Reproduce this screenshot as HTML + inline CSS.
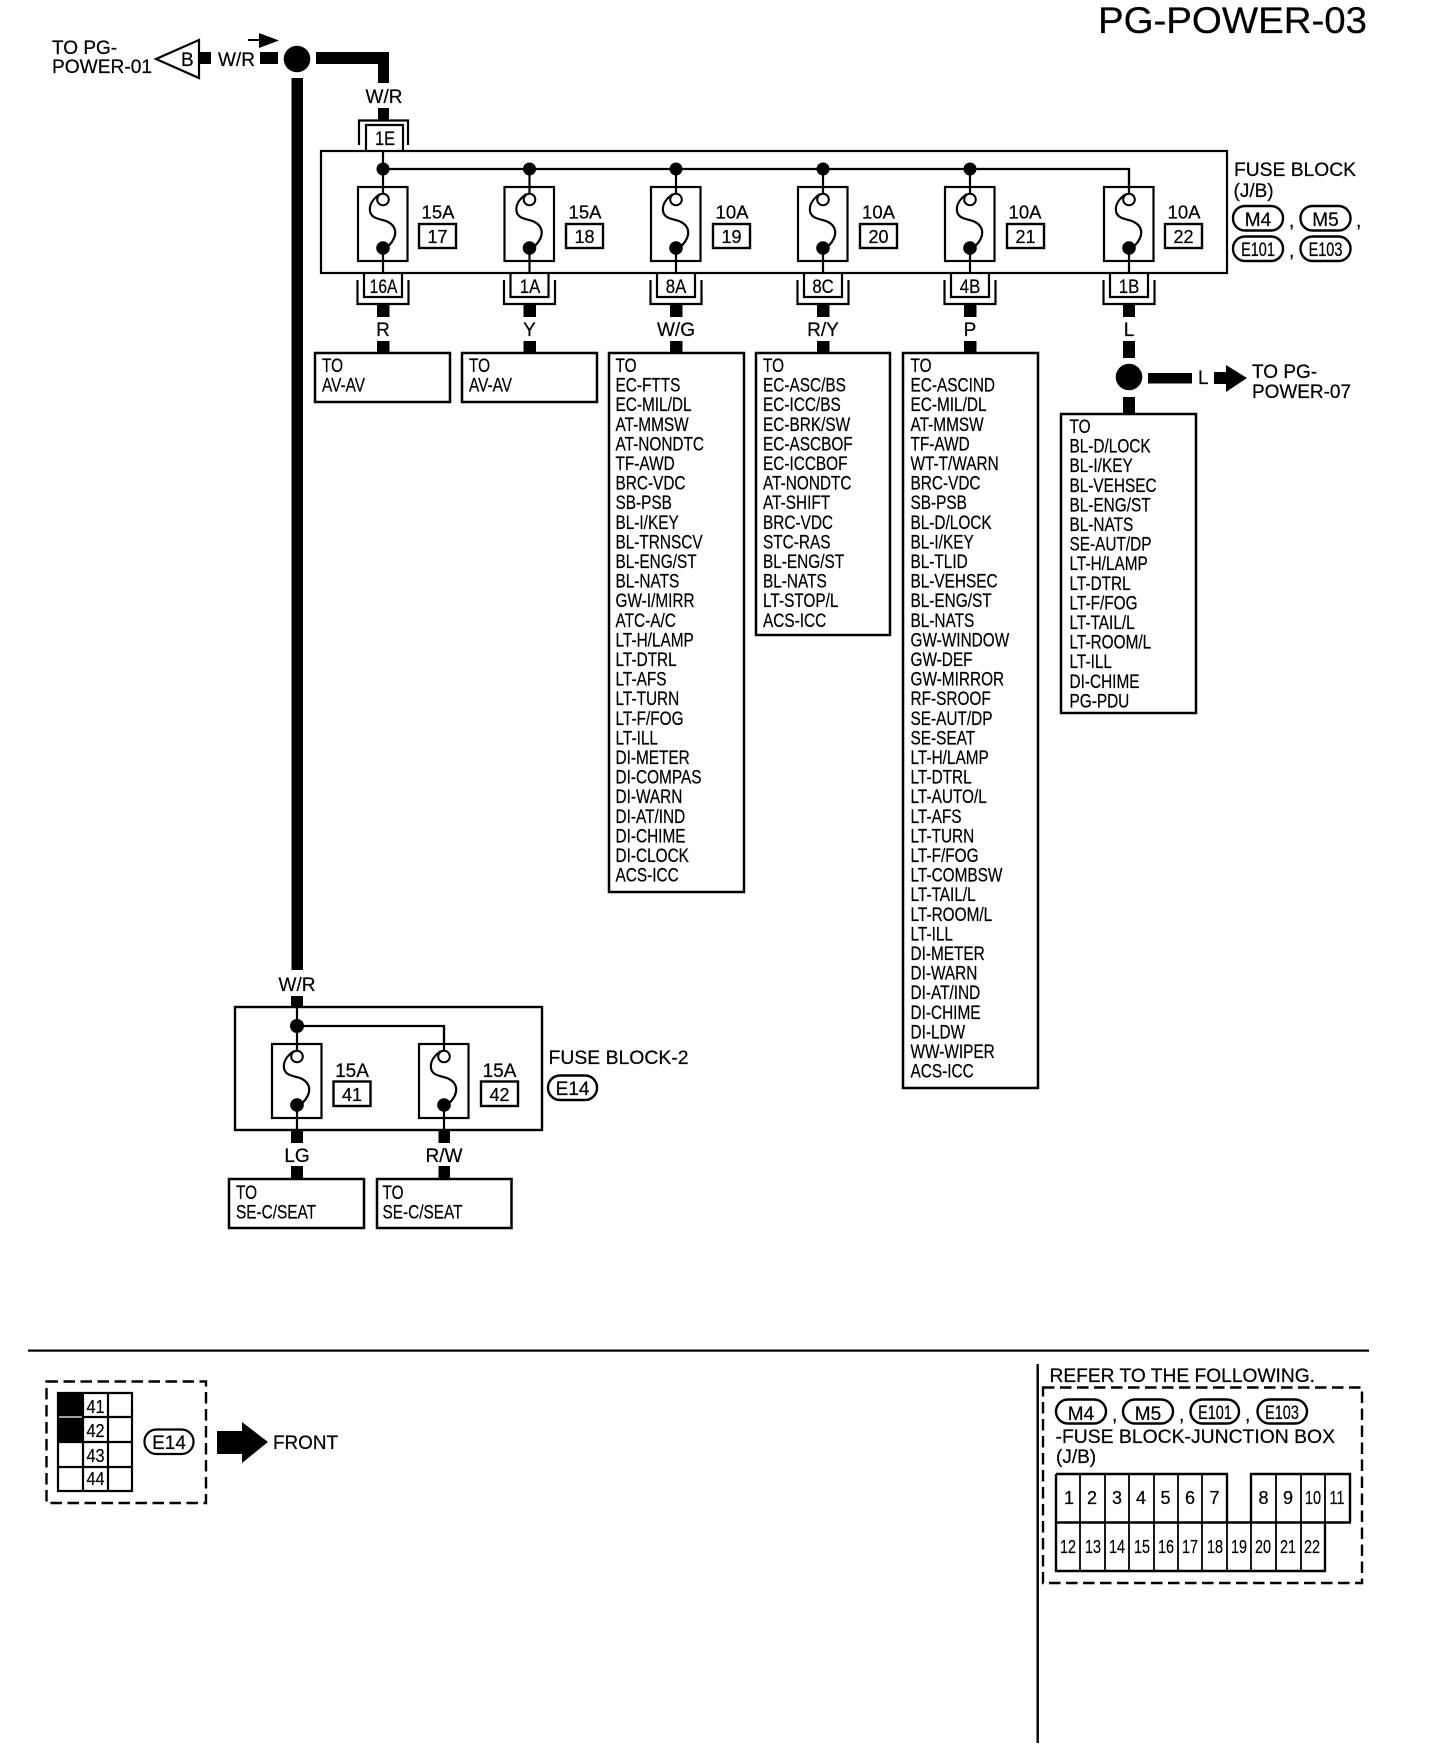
<!DOCTYPE html>
<html><head><meta charset="utf-8"><title>PG-POWER-03</title>
<style>
html,body{margin:0;padding:0;background:#fff}
svg{display:block}
text{font-family:"Liberation Sans",sans-serif;font-size:19px;fill:#000;stroke:#000;stroke-width:.22px}
.m{text-anchor:middle}
.ln{fill:none;stroke:#000;stroke-width:2.2}
.bx{fill:#fff;stroke:#000;stroke-width:2.5}
</style></head><body>
<svg xmlns="http://www.w3.org/2000/svg" width="1440" height="1758" viewBox="0 0 1440 1758">
<defs>
<g id="fuse">
<rect x="-25" y="0" width="49.5" height="74" fill="#fff" stroke="#000" stroke-width="2.2"/>
<path d="M0 -18V6M0 61V86" class="ln"/>
<circle cx="0" cy="12.5" r="5.8" fill="#fff" stroke="#000" stroke-width="2"/>
<path d="M-3 7C-9 11-14 17-13 24C-12 32-2 32 3 34C10 37 13 42 12 48C11 53 7 58 2 62" class="ln"/>
<circle cx="0" cy="61" r="6.8" fill="#000"/>
</g>
<g id="conn">
<path d="M-25.5 280V304H25.5V280" class="ln"/>
<path d="M-19 273V297H19V273" class="ln"/>
<rect x="-6" y="305" width="12.5" height="12"/>
<rect x="-6" y="341" width="12.5" height="12"/>
</g>
</defs>

<text x="1098" y="33" textLength="269" lengthAdjust="spacingAndGlyphs" style="font-size:37px">PG-POWER-03</text>

<!-- top left -->
<text x="52" y="54">TO PG-</text>
<text x="52" y="73" textLength="100" lengthAdjust="spacingAndGlyphs">POWER-01</text>
<path d="M199 40L156 59L199 78Z" fill="#fff" stroke="#000" stroke-width="2.2"/>
<text x="181" y="66">B</text>
<rect x="200" y="52" width="11" height="12"/>
<text x="218" y="66">W/R</text>
<rect x="260" y="52" width="18" height="12"/>
<path d="M248 40H262" stroke="#000" stroke-width="2" fill="none"/>
<path d="M259 33L279 40.5L259 48Z"/>
<circle cx="297" cy="59" r="13.3"/>
<path d="M316 52H389V83H378V64H316Z"/>
<rect x="291.5" y="78" width="11.5" height="892"/>

<text x="384" y="103" class="m">W/R</text>
<rect x="378" y="108" width="11" height="12"/>
<path d="M359 145V120.500H408V145" class="ln"/>
<path d="M366 151V125H403V151" class="ln"/>
<text class="m" transform="translate(385 145) scale(.86 1)">1E</text>

<!-- fuse block -->
<rect x="321" y="151" width="906" height="122" fill="#fff" stroke="#000" stroke-width="2.2"/>
<path d="M383 151V169H1129V187" class="ln"/>
<use href="#fuse" transform="translate(383 187)"/>
<use href="#fuse" transform="translate(529.5 187)"/>
<use href="#fuse" transform="translate(676 187)"/>
<use href="#fuse" transform="translate(823 187)"/>
<use href="#fuse" transform="translate(970 187)"/>
<use href="#fuse" transform="translate(1129 187)"/>
<circle cx="383" cy="169" r="6.5"/><circle cx="529.5" cy="169" r="6.5"/><circle cx="676" cy="169" r="6.5"/><circle cx="823" cy="169" r="6.5"/><circle cx="970" cy="169" r="6.5"/>

<text x="438" y="218.500" class="m" style="font-size:18.500px">15A</text>
<text x="585" y="218.500" class="m" style="font-size:18.500px">15A</text>
<text x="732" y="218.500" class="m" style="font-size:18.500px">10A</text>
<text x="878.5" y="218.500" class="m" style="font-size:18.500px">10A</text>
<text x="1025" y="218.500" class="m" style="font-size:18.500px">10A</text>
<text x="1184" y="218.500" class="m" style="font-size:18.500px">10A</text>
<g fill="#fff" stroke="#000" stroke-width="2.4">
<rect x="419" y="224" width="37" height="24"/><rect x="566" y="224" width="37" height="24"/><rect x="713" y="224" width="37" height="24"/><rect x="860" y="224" width="37" height="24"/><rect x="1007" y="224" width="37" height="24"/><rect x="1165" y="224" width="37" height="24"/>
</g>
<text x="437.5" y="243" class="m" style="font-size:18px">17</text>
<text x="584.5" y="243" class="m" style="font-size:18px">18</text>
<text x="731.5" y="243" class="m" style="font-size:18px">19</text>
<text x="878.5" y="243" class="m" style="font-size:18px">20</text>
<text x="1025.5" y="243" class="m" style="font-size:18px">21</text>
<text x="1183.500" y="243" class="m" style="font-size:18px">22</text>

<use href="#conn" x="383"/><use href="#conn" x="529.5"/><use href="#conn" x="676"/><use href="#conn" x="823"/><use href="#conn" x="970"/>
<path d="M1103.500 280V304H1154.500V280" class="ln"/><path d="M1110 273V297H1148V273" class="ln"/>
<rect x="1123" y="305" width="12" height="12"/>
<rect x="1123" y="341" width="12" height="17"/>
<rect x="1123" y="397" width="12" height="17"/>

<text class="m" transform="translate(383.500 293) scale(.82 1)">16A</text>
<text class="m" transform="translate(530 293) scale(.88 1)">1A</text>
<text class="m" transform="translate(676 293) scale(.88 1)">8A</text>
<text class="m" transform="translate(823 293) scale(.88 1)">8C</text>
<text class="m" transform="translate(970 293) scale(.88 1)">4B</text>
<text class="m" transform="translate(1129 293) scale(.88 1)">1B</text>

<text x="383" y="336" class="m">R</text>
<text x="529.5" y="336" class="m">Y</text>
<text x="676" y="336" class="m">W/G</text>
<text x="823" y="336" class="m">R/Y</text>
<text x="970" y="336" class="m">P</text>
<text x="1129" y="336" class="m">L</text>

<!-- right side label -->
<text x="1234" y="176" textLength="122" lengthAdjust="spacingAndGlyphs">FUSE BLOCK</text>
<text x="1233.500" y="197">(J/B)</text>
<g fill="#fff" stroke="#000" stroke-width="2.4">
<rect x="1233" y="206" width="50" height="24.5" rx="12"/><rect x="1300.5" y="206" width="50" height="24.5" rx="12"/>
<rect x="1233" y="236.5" width="50" height="24.5" rx="12"/><rect x="1300.5" y="236.5" width="50" height="24.5" rx="12"/>
</g>
<text x="1258" y="226" class="m">M4</text><text x="1325.5" y="226" class="m">M5</text>
<text class="m" transform="translate(1258 256) scale(.76 1)">E101</text><text class="m" transform="translate(1325.5 256) scale(.76 1)">E103</text>
<text x="1289" y="227">,</text><text x="1356" y="227">,</text><text x="1289" y="257">,</text>

<!-- right junction -->
<circle cx="1129" cy="377" r="13.3"/>
<rect x="1148" y="373" width="44" height="10.5"/>
<text x="1198" y="384">L</text>
<path d="M1214 372H1226V365L1247 378L1226 392V384H1214Z"/>
<text x="1252" y="378">TO PG-</text>
<text x="1252" y="398" textLength="99" lengthAdjust="spacingAndGlyphs">POWER-07</text>

<!-- destination boxes -->
<rect x="315" y="353" width="135" height="49" class="bx"/>
<rect x="462" y="353" width="135" height="49" class="bx"/>
<rect x="609" y="353" width="135" height="539" class="bx"/>
<rect x="756" y="353" width="134" height="282" class="bx"/>
<rect x="903" y="353" width="135" height="735" class="bx"/>
<rect x="1061" y="414" width="135" height="299" class="bx"/>
<rect x="229" y="1179" width="135" height="49" class="bx"/>
<rect x="377" y="1179" width="134.500" height="49" class="bx"/>

<g transform="translate(322 372) scale(.81 1)"><text x="0" y="0">TO</text><text x="0" y="19.6">AV-AV</text></g>
<g transform="translate(469 372) scale(.81 1)"><text x="0" y="0">TO</text><text x="0" y="19.6">AV-AV</text></g>

<text transform="translate(615.5 372) scale(.81 1)">
<tspan x="0" y="0">TO</tspan><tspan x="0" dy="19.6">EC-FTTS</tspan><tspan x="0" dy="19.6">EC-MIL/DL</tspan><tspan x="0" dy="19.6">AT-MMSW</tspan><tspan x="0" dy="19.6">AT-NONDTC</tspan><tspan x="0" dy="19.6">TF-AWD</tspan><tspan x="0" dy="19.6">BRC-VDC</tspan><tspan x="0" dy="19.6">SB-PSB</tspan><tspan x="0" dy="19.6">BL-I/KEY</tspan><tspan x="0" dy="19.6">BL-TRNSCV</tspan><tspan x="0" dy="19.6">BL-ENG/ST</tspan><tspan x="0" dy="19.6">BL-NATS</tspan><tspan x="0" dy="19.6">GW-I/MIRR</tspan><tspan x="0" dy="19.6">ATC-A/C</tspan><tspan x="0" dy="19.6">LT-H/LAMP</tspan><tspan x="0" dy="19.6">LT-DTRL</tspan><tspan x="0" dy="19.6">LT-AFS</tspan><tspan x="0" dy="19.6">LT-TURN</tspan><tspan x="0" dy="19.6">LT-F/FOG</tspan><tspan x="0" dy="19.6">LT-ILL</tspan><tspan x="0" dy="19.6">DI-METER</tspan><tspan x="0" dy="19.6">DI-COMPAS</tspan><tspan x="0" dy="19.6">DI-WARN</tspan><tspan x="0" dy="19.6">DI-AT/IND</tspan><tspan x="0" dy="19.6">DI-CHIME</tspan><tspan x="0" dy="19.6">DI-CLOCK</tspan><tspan x="0" dy="19.6">ACS-ICC</tspan>
</text>

<text transform="translate(763 372) scale(.81 1)">
<tspan x="0" y="0">TO</tspan><tspan x="0" dy="19.6">EC-ASC/BS</tspan><tspan x="0" dy="19.6">EC-ICC/BS</tspan><tspan x="0" dy="19.6">EC-BRK/SW</tspan><tspan x="0" dy="19.6">EC-ASCBOF</tspan><tspan x="0" dy="19.6">EC-ICCBOF</tspan><tspan x="0" dy="19.6">AT-NONDTC</tspan><tspan x="0" dy="19.6">AT-SHIFT</tspan><tspan x="0" dy="19.6">BRC-VDC</tspan><tspan x="0" dy="19.6">STC-RAS</tspan><tspan x="0" dy="19.6">BL-ENG/ST</tspan><tspan x="0" dy="19.6">BL-NATS</tspan><tspan x="0" dy="19.6">LT-STOP/L</tspan><tspan x="0" dy="19.6">ACS-ICC</tspan>
</text>

<text transform="translate(910.5 372) scale(.81 1)">
<tspan x="0" y="0">TO</tspan><tspan x="0" dy="19.6">EC-ASCIND</tspan><tspan x="0" dy="19.6">EC-MIL/DL</tspan><tspan x="0" dy="19.6">AT-MMSW</tspan><tspan x="0" dy="19.6">TF-AWD</tspan><tspan x="0" dy="19.6">WT-T/WARN</tspan><tspan x="0" dy="19.6">BRC-VDC</tspan><tspan x="0" dy="19.6">SB-PSB</tspan><tspan x="0" dy="19.6">BL-D/LOCK</tspan><tspan x="0" dy="19.6">BL-I/KEY</tspan><tspan x="0" dy="19.6">BL-TLID</tspan><tspan x="0" dy="19.6">BL-VEHSEC</tspan><tspan x="0" dy="19.6">BL-ENG/ST</tspan><tspan x="0" dy="19.6">BL-NATS</tspan><tspan x="0" dy="19.6">GW-WINDOW</tspan><tspan x="0" dy="19.6">GW-DEF</tspan><tspan x="0" dy="19.6">GW-MIRROR</tspan><tspan x="0" dy="19.6">RF-SROOF</tspan><tspan x="0" dy="19.6">SE-AUT/DP</tspan><tspan x="0" dy="19.6">SE-SEAT</tspan><tspan x="0" dy="19.6">LT-H/LAMP</tspan><tspan x="0" dy="19.6">LT-DTRL</tspan><tspan x="0" dy="19.6">LT-AUTO/L</tspan><tspan x="0" dy="19.6">LT-AFS</tspan><tspan x="0" dy="19.6">LT-TURN</tspan><tspan x="0" dy="19.6">LT-F/FOG</tspan><tspan x="0" dy="19.6">LT-COMBSW</tspan><tspan x="0" dy="19.6">LT-TAIL/L</tspan><tspan x="0" dy="19.6">LT-ROOM/L</tspan><tspan x="0" dy="19.6">LT-ILL</tspan><tspan x="0" dy="19.6">DI-METER</tspan><tspan x="0" dy="19.6">DI-WARN</tspan><tspan x="0" dy="19.6">DI-AT/IND</tspan><tspan x="0" dy="19.6">DI-CHIME</tspan><tspan x="0" dy="19.6">DI-LDW</tspan><tspan x="0" dy="19.6">WW-WIPER</tspan><tspan x="0" dy="19.6">ACS-ICC</tspan>
</text>

<text transform="translate(1069.500 433) scale(.81 1)">
<tspan x="0" y="0">TO</tspan><tspan x="0" dy="19.6">BL-D/LOCK</tspan><tspan x="0" dy="19.6">BL-I/KEY</tspan><tspan x="0" dy="19.6">BL-VEHSEC</tspan><tspan x="0" dy="19.6">BL-ENG/ST</tspan><tspan x="0" dy="19.6">BL-NATS</tspan><tspan x="0" dy="19.6">SE-AUT/DP</tspan><tspan x="0" dy="19.6">LT-H/LAMP</tspan><tspan x="0" dy="19.6">LT-DTRL</tspan><tspan x="0" dy="19.6">LT-F/FOG</tspan><tspan x="0" dy="19.6">LT-TAIL/L</tspan><tspan x="0" dy="19.6">LT-ROOM/L</tspan><tspan x="0" dy="19.6">LT-ILL</tspan><tspan x="0" dy="19.6">DI-CHIME</tspan><tspan x="0" dy="19.6">PG-PDU</tspan>
</text>

<!-- fuse block 2 -->
<text x="297" y="991" class="m">W/R</text>
<rect x="291" y="996" width="12" height="11"/>
<rect x="235" y="1007" width="307" height="123" fill="#fff" stroke="#000" stroke-width="2.4"/>
<path d="M297 1007V1026H444V1044" class="ln"/>
<use href="#fuse" transform="translate(297 1044)"/>
<use href="#fuse" transform="translate(444 1044)"/>
<circle cx="297" cy="1026" r="7"/>
<text x="352" y="1077" class="m">15A</text>
<text x="499.500" y="1077" class="m">15A</text>
<rect x="333.5" y="1081.5" width="37" height="24.5" fill="#fff" stroke="#000" stroke-width="2.4"/>
<rect x="481" y="1081.5" width="37" height="24.5" fill="#fff" stroke="#000" stroke-width="2.4"/>
<text x="352" y="1101" class="m" style="font-size:18px">41</text>
<text x="499.500" y="1101" class="m" style="font-size:18px">42</text>
<rect x="291" y="1130" width="12" height="13"/><rect x="438.500" y="1130" width="11.5" height="13"/>
<text x="297" y="1162" class="m">LG</text><text x="444" y="1162" class="m">R/W</text>
<rect x="291" y="1166" width="12" height="13"/><rect x="438.500" y="1166" width="11.5" height="13"/>
<text x="548.500" y="1064" textLength="140" lengthAdjust="spacingAndGlyphs">FUSE BLOCK-2</text>
<rect x="548" y="1075.5" width="49" height="24.5" rx="12" fill="#fff" stroke="#000" stroke-width="2.4"/>
<text x="572.500" y="1095" class="m">E14</text>
<g transform="translate(236 1199) scale(.81 1)"><text x="0" y="0">TO</text><text x="0" y="19.6">SE-C/SEAT</text></g>
<g transform="translate(382.500 1199) scale(.81 1)"><text x="0" y="0">TO</text><text x="0" y="19.6">SE-C/SEAT</text></g>

<!-- bottom -->
<rect x="28" y="1349.500" width="1341" height="2.2"/>
<rect x="46.5" y="1381.5" width="159.5" height="121.5" fill="none" stroke="#000" stroke-width="2.4" stroke-dasharray="11.5 5.5"/>
<rect x="58" y="1392" width="25" height="50"/>
<path d="M58 1393H132V1491H58ZM83 1393V1491M108 1393V1491M58 1417H83M83 1417H132M58 1442H132M58 1467H132" fill="none" stroke="#000" stroke-width="2.2"/>
<path d="M59 1417H82" stroke="#fff" stroke-width="1.2"/>
<text class="m" transform="translate(95.5 1413) scale(.88 1)" style="font-size:18.500px">41</text>
<text class="m" transform="translate(95.5 1437) scale(.88 1)" style="font-size:18.500px">42</text>
<text class="m" transform="translate(95.5 1462) scale(.88 1)" style="font-size:18.500px">43</text>
<text class="m" transform="translate(95.5 1485) scale(.88 1)" style="font-size:18.500px">44</text>
<rect x="144.500" y="1429.5" width="49" height="24.5" rx="12" fill="#fff" stroke="#000" stroke-width="2.2"/>
<text x="169" y="1449" class="m">E14</text>
<path d="M217 1431H242V1422L268 1442L242 1463V1454H217Z"/>
<text x="273" y="1449" textLength="65" lengthAdjust="spacingAndGlyphs">FRONT</text>

<rect x="1036.5" y="1364" width="2.4" height="379"/>
<text x="1049.500" y="1382" textLength="265.500" lengthAdjust="spacingAndGlyphs">REFER TO THE FOLLOWING.</text>
<rect x="1043" y="1387.5" width="319" height="195.5" fill="none" stroke="#000" stroke-width="2.4" stroke-dasharray="11.5 5.5"/>
<g fill="#fff" stroke="#000" stroke-width="2.4">
<rect x="1056" y="1399.5" width="50" height="24" rx="12"/><rect x="1123" y="1399.5" width="50" height="24" rx="12"/><rect x="1190.5" y="1399.5" width="48.5" height="24" rx="12"/><rect x="1257.5" y="1399.5" width="49.5" height="24" rx="12"/>
</g>
<text x="1081" y="1420" class="m">M4</text><text x="1148" y="1420" class="m">M5</text>
<text class="m" transform="translate(1215 1419) scale(.76 1)">E101</text><text class="m" transform="translate(1282 1419) scale(.76 1)">E103</text>
<text x="1112" y="1421">,</text><text x="1179" y="1421">,</text><text x="1245" y="1421">,</text>
<text x="1055.500" y="1443" textLength="279.500" lengthAdjust="spacingAndGlyphs">-FUSE BLOCK-JUNCTION BOX</text>
<text x="1056" y="1463">(J/B)</text>

<path d="M1056 1474H1227V1522M1251 1522V1474H1350V1522M1055 1522.5H1351M1056 1474V1571H1325V1522" fill="none" stroke="#000" stroke-width="2.4"/>
<path d="M1080 1474V1571M1105 1474V1571M1129 1474V1571M1154 1474V1571M1178 1474V1571M1202 1474V1571M1227 1522V1571M1251 1522V1571M1276 1474V1571M1301 1474V1571M1325 1474V1522" fill="none" stroke="#000" stroke-width="1.8"/>
<text x="1069" y="1504" class="m" style="font-size:18px">1</text><text x="1092" y="1504" class="m" style="font-size:18px">2</text><text x="1117" y="1504" class="m" style="font-size:18px">3</text><text x="1141" y="1504" class="m" style="font-size:18px">4</text><text x="1165.500" y="1504" class="m" style="font-size:18px">5</text><text x="1190" y="1504" class="m" style="font-size:18px">6</text><text x="1214.500" y="1504" class="m" style="font-size:18px">7</text><text x="1263.500" y="1504" class="m" style="font-size:18px">8</text><text x="1288" y="1504" class="m" style="font-size:18px">9</text>
<text class="m" transform="translate(1313 1504) scale(.78 1)" style="font-size:18.500px">10</text>
<text class="m" transform="translate(1337 1504) scale(.78 1)" style="font-size:18.500px">11</text>
<text class="m" transform="translate(1068 1553) scale(.78 1)" style="font-size:18.500px">12</text>
<text class="m" transform="translate(1093 1553) scale(.78 1)" style="font-size:18.500px">13</text>
<text class="m" transform="translate(1117 1553) scale(.78 1)" style="font-size:18.500px">14</text>
<text class="m" transform="translate(1142 1553) scale(.78 1)" style="font-size:18.500px">15</text>
<text class="m" transform="translate(1166 1553) scale(.78 1)" style="font-size:18.500px">16</text>
<text class="m" transform="translate(1190 1553) scale(.78 1)" style="font-size:18.500px">17</text>
<text class="m" transform="translate(1215 1553) scale(.78 1)" style="font-size:18.500px">18</text>
<text class="m" transform="translate(1239 1553) scale(.78 1)" style="font-size:18.500px">19</text>
<text class="m" transform="translate(1263 1553) scale(.78 1)" style="font-size:18.500px">20</text>
<text class="m" transform="translate(1288 1553) scale(.78 1)" style="font-size:18.500px">21</text>
<text class="m" transform="translate(1312 1553) scale(.78 1)" style="font-size:18.500px">22</text>
</svg>
</body></html>
